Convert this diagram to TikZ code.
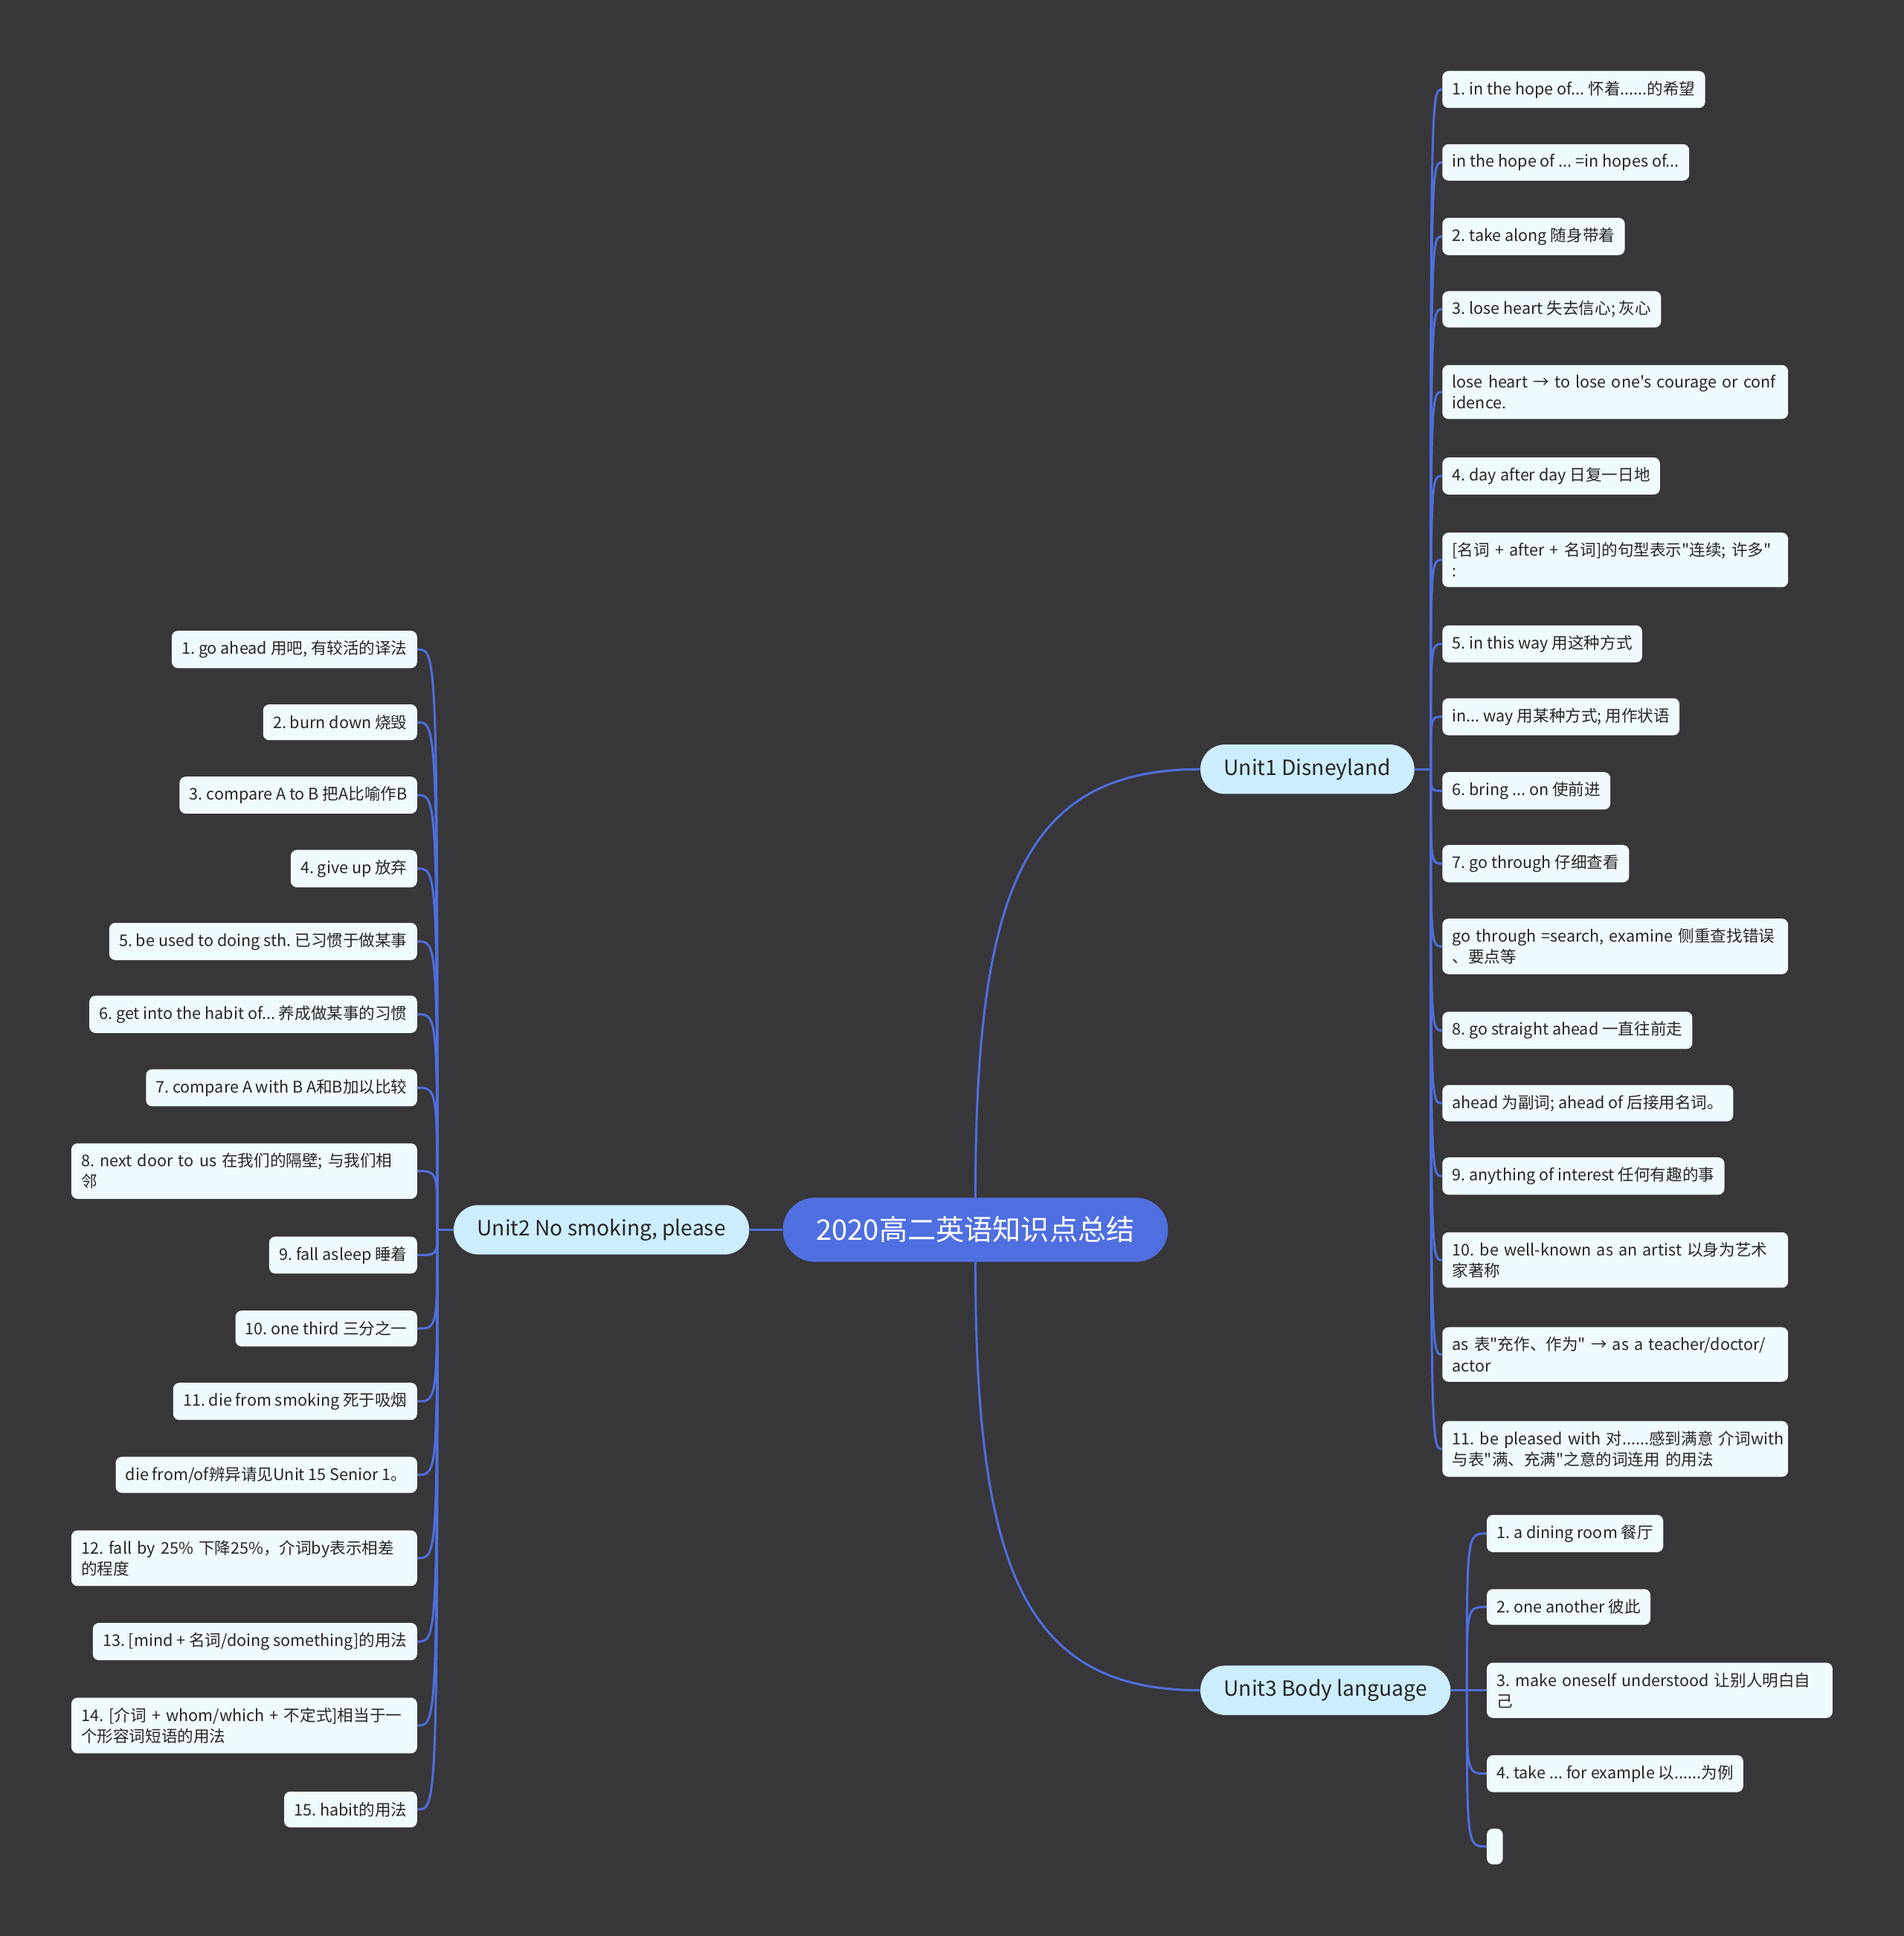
\documentclass[tikz,border=0pt]{standalone}
\usepackage{fontspec}
\setmainfont{Noto Sans CJK SC}[Ligatures=TeXOff]
\frenchspacing
\usetikzlibrary{calc}
\definecolor{bg}{HTML}{373639}
\definecolor{linkblue}{HTML}{4F6EDD}
\definecolor{rootfill}{HTML}{4F6FE0}
\definecolor{unitfill}{HTML}{CDEEFE}
\definecolor{leaffill}{HTML}{F0FBFF}
\definecolor{ink}{HTML}{262626}
\tikzset{x=1pt,y=-1pt,
  rootbox/.style={fill=rootfill,text=white,rounded corners=26pt,minimum height=52pt,
    minimum width=312pt,font=\fontsize{23}{28}\selectfont},
  unitbox/.style={fill=unitfill,text=ink,rounded corners=20pt,minimum height=40pt,
    inner xsep=19pt,font=\fontsize{17}{20}\selectfont},
  leaf/.style={fill=leaffill,text=ink,rounded corners=5pt,minimum height=29pt,
    inner xsep=8pt,inner ysep=8pt,align=left,font=\fontsize{13}{17}\selectfont},
  wide/.style={text width=264pt},
  branch/.style={draw=linkblue,line width=1.8pt}}

\begin{document}
\begin{tikzpicture}
\fill[bg] (0,0) rectangle (1542,1568);

\node[rootbox] (root) at (790,996) {2020高二英语知识点总结};
\node[unitbox,anchor=west] (u1) at (972,623) {Unit1 Disneyland};
\node[unitbox,anchor=east] (u2) at (607,996) {Unit2 No smoking, please};
\node[unitbox,anchor=west] (u3) at (972,1369) {Unit3 Body language};

\node[leaf,anchor=west] (a1) at (1168,72.5) {1. in the hope of... 怀着......的希望};
\node[leaf,anchor=west] (a2) at (1168,131.5) {in the hope of ... =in hopes of...};
\node[leaf,anchor=west] (a3) at (1168,191.5) {2. take along 随身带着};
\node[leaf,anchor=west] (a4) at (1168,250.5) {3. lose heart 失去信心; 灰心};
\node[leaf,wide,anchor=west] (a5) at (1168,317.5) {\mbox{lose heart → to lose one's courage or conf}\\idence.};
\node[leaf,anchor=west] (a6) at (1168,385.5) {4. day after day 日复一日地};
\node[leaf,wide,anchor=west] (a7) at (1168,453.5) {\mbox{[名词 + after + 名词]的句型表示"连续; 许多"}\\:};
\node[leaf,anchor=west] (a8) at (1168,521.5) {5. in this way 用这种方式};
\node[leaf,anchor=west] (a9) at (1168,580.5) {in... way 用某种方式; 用作状语};
\node[leaf,anchor=west] (a10) at (1168,640.5) {6. bring ... on 使前进};
\node[leaf,anchor=west] (a11) at (1168,699.5) {7. go through 仔细查看};
\node[leaf,wide,anchor=west] (a12) at (1168,766.5) {\mbox{go through =search, examine 侧重查找错误}\\、要点等};
\node[leaf,anchor=west] (a13) at (1168,834.5) {8. go straight ahead 一直往前走};
\node[leaf,anchor=west] (a14) at (1168,893.5) {ahead 为副词; ahead of 后接用名词。};
\node[leaf,anchor=west] (a15) at (1168,952.5) {9. anything of interest 任何有趣的事};
\node[leaf,wide,anchor=west] (a16) at (1168,1020.5) {\mbox{10. be well-known as an artist 以身为艺术}\\家著称};
\node[leaf,wide,anchor=west] (a17) at (1168,1097) {\mbox{as 表"充作、作为" → as a teacher/doctor/}\\actor};
\node[leaf,wide,anchor=west] (a18) at (1168,1173.5) {\mbox{11. be pleased with 对......感到满意 介词with}\\\mbox{与表"满、充满"之意的词连用 的用法}};

\node[leaf,anchor=east] (b1) at (338,526) {1. go ahead 用吧, 有较活的译法};
\node[leaf,anchor=east] (b2) at (338,585) {2. burn down 烧毁};
\node[leaf,anchor=east] (b3) at (338,644) {3. compare A to B 把A比喻作B};
\node[leaf,anchor=east] (b4) at (338,703.5) {4. give up 放弃};
\node[leaf,anchor=east] (b5) at (338,762.5) {5. be used to doing sth. 已习惯于做某事};
\node[leaf,anchor=east] (b6) at (338,821.5) {6. get into the habit of... 养成做某事的习惯};
\node[leaf,anchor=east] (b7) at (338,881) {7. compare A with B A和B加以比较};
\node[leaf,wide,anchor=east] (b8) at (338,948.5) {\mbox{8. next door to us 在我们的隔壁; 与我们相}\\邻};
\node[leaf,anchor=east] (b9) at (338,1016.5) {9. fall asleep 睡着};
\node[leaf,anchor=east] (b10) at (338,1076) {10. one third 三分之一};
\node[leaf,anchor=east] (b11) at (338,1135) {11. die from smoking 死于吸烟};
\node[leaf,anchor=east] (b12) at (338,1194.5) {die from/of辨异请见Unit 15 Senior 1。};
\node[leaf,wide,anchor=east] (b13) at (338,1262) {\mbox{12. fall by 25\% 下降25\%，介词by表示相差}\\的程度};
\node[leaf,anchor=east] (b14) at (338,1329.5) {13. [mind + 名词/doing something]的用法};
\node[leaf,wide,anchor=east] (b15) at (338,1397.5) {\mbox{14. [介词 + whom/which + 不定式]相当于一}\\个形容词短语的用法};
\node[leaf,anchor=east] (b16) at (338,1465.5) {15. habit的用法};

\node[leaf,anchor=west] (c1) at (1204,1242) {1. a dining room 餐厅};
\node[leaf,anchor=west] (c2) at (1204,1301.5) {2. one another 彼此};
\node[leaf,wide,anchor=west] (c3) at (1204,1369) {\mbox{3. make oneself understood 让别人明白自}\\己};
\node[leaf,anchor=west] (c4) at (1204,1436.5) {4. take ... for example 以......为例};
\node[leaf,anchor=west,minimum width=13pt,inner xsep=0pt] (c5) at (1204,1495.5) {};

\coordinate (u1o) at ($(u1.east)+(13,0)$);
\coordinate (u2o) at ($(u2.west)+(-13,0)$);
\coordinate (u3o) at ($(u3.east)+(13,0)$);

\draw[branch] (root.north) .. controls ($(root.north)!0.72!(root.north |- u1.west)$)
  and ($(u1.west)!0.78!(root.north |- u1.west)$) .. (u1.west);
\draw[branch] (root.south) .. controls ($(root.south)!0.72!(root.south |- u3.west)$)
  and ($(u3.west)!0.78!(root.south |- u3.west)$) .. (u3.west);
\draw[branch] (root.west) -- (u2.east);

\draw[branch] (u1.east) -- (u1o);
\foreach \i in {1,...,18}
  \draw[branch] (u1o) .. controls (u1o |- a\i.west) .. (a\i.west);
\draw[branch] (u2.west) -- (u2o);
\foreach \i in {1,...,16}
  \draw[branch] (u2o) .. controls (u2o |- b\i.east) .. (b\i.east);
\draw[branch] (u3.east) -- (u3o);
\foreach \i in {1,...,5}
  \draw[branch] (u3o) .. controls (u3o |- c\i.west) .. (c\i.west);
\end{tikzpicture}
\end{document}
